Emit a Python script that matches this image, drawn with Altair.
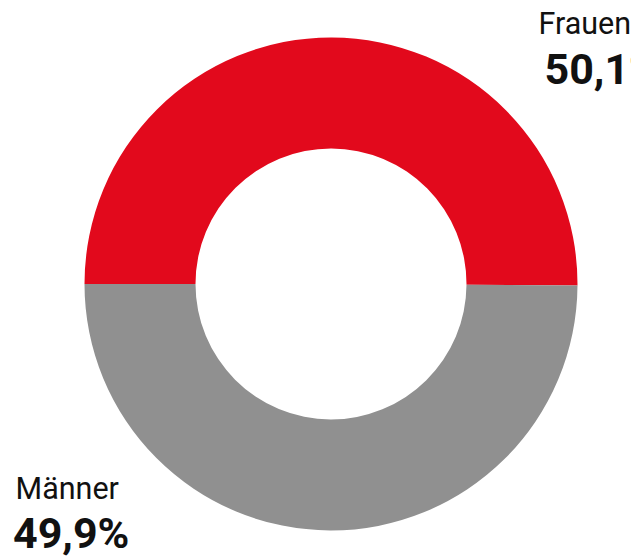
import math
import altair as alt
import pandas as pd

categories = ["Frauen", "Männer"]
values = [50.1, 49.9]
colors = ["#E2091C", "#909090"]

def fmt(v):
    return f"{v:.1f}".replace(".", ",") + "%"

arc_df = pd.DataFrame({"cat": categories, "val": values, "order": [0, 1]})

arc = alt.Chart(arc_df).mark_arc(outerRadius=246.5, innerRadius=135.5).encode(
    theta=alt.Theta("val:Q", stack=True, scale=alt.Scale(range=[-math.pi / 2, 3 * math.pi / 2])),
    color=alt.Color("cat:N", scale=alt.Scale(domain=categories, range=colors), legend=None),
    order=alt.Order("order:Q"),
    x=alt.value(323),
    y=alt.value(276),
)

# label positions (layout only)
name_df = pd.DataFrame({"t": categories, "px": [530.5, 7.5], "py": [26, 491]})
val_df = pd.DataFrame({"t": [fmt(v) for v in values], "px": [536.5, 5], "py": [76, 540]})

names = alt.Chart(name_df).mark_text(
    font="Roboto", fontSize=30.5, align="left", baseline="alphabetic", color="#111111"
).encode(text="t:N", x=alt.X("px:Q", scale=None), y=alt.Y("py:Q", scale=None))

vals = alt.Chart(val_df).mark_text(
    font="Roboto", fontSize=43, fontWeight="bold", align="left", baseline="alphabetic", color="#111111"
).encode(text="t:N", x=alt.X("px:Q", scale=None), y=alt.Y("py:Q", scale=None))

chart = alt.layer(arc, names, vals).properties(
    width=623, height=548, padding=0,
    autosize=alt.AutoSizeParams(type="none"),
).configure_view(stroke=None)

chart.save("out.html", embed_options={"renderer": "svg", "actions": False})
